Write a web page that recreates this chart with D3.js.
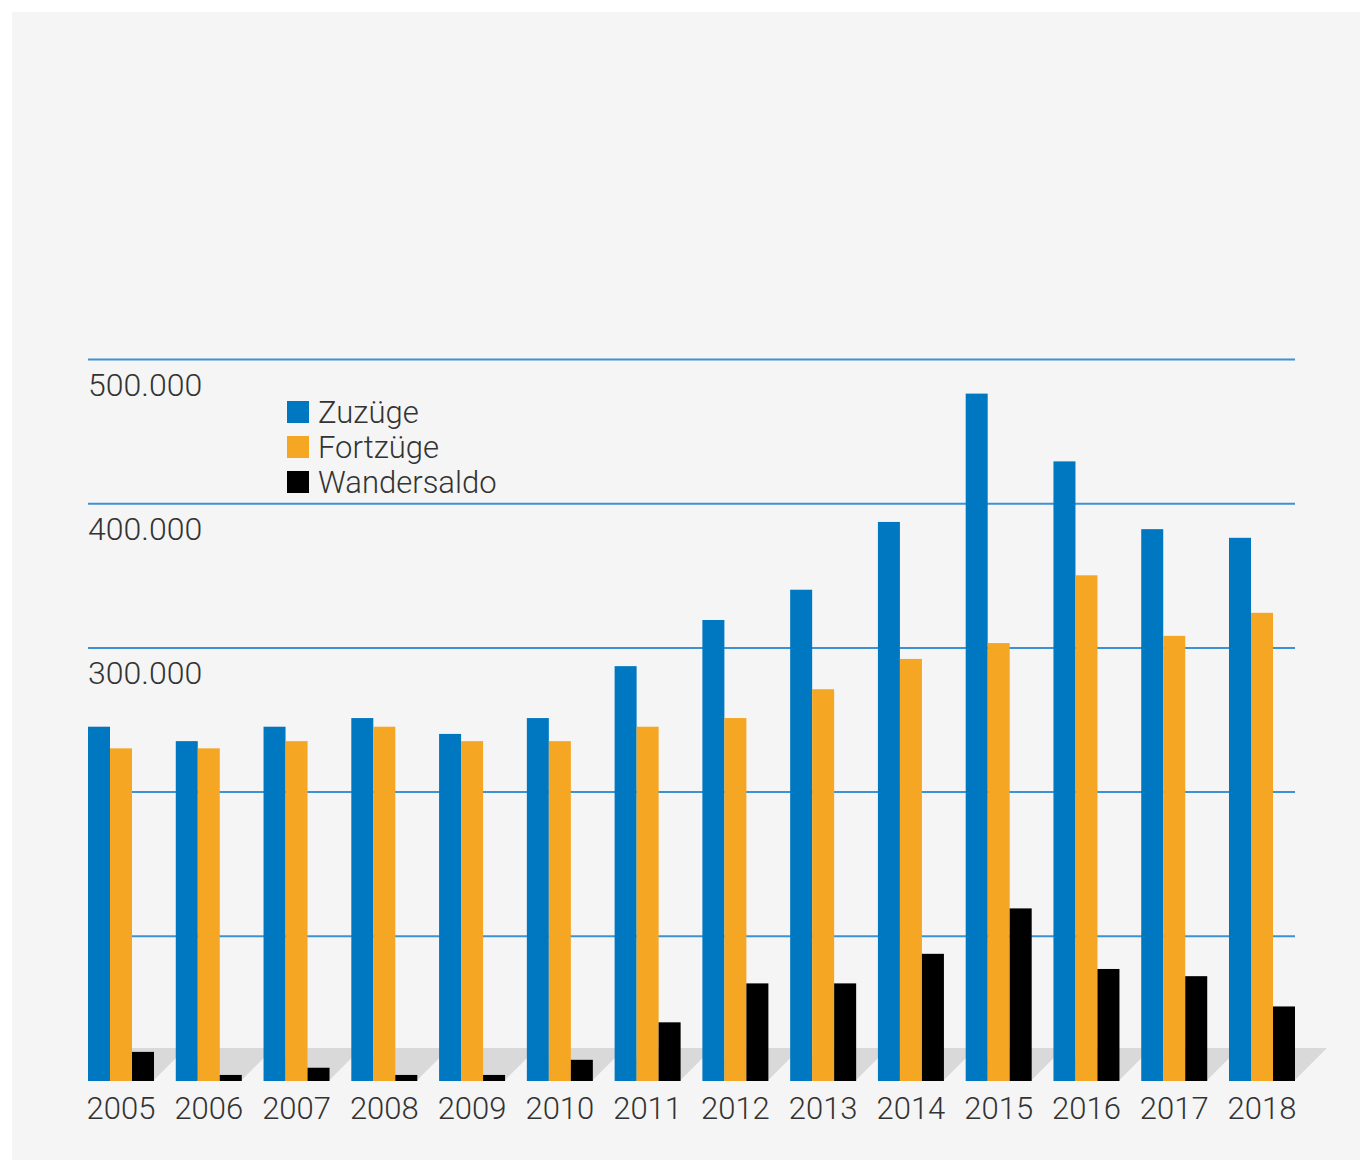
<!DOCTYPE html>
<html>
<head>
<meta charset="utf-8">
<script src="https://cdn.jsdelivr.net/npm/d3@7"></script>
<style>
  html, body { margin: 0; padding: 0; background: #ffffff; }
  svg { display: block; }
  text { font-family: Roboto, "Liberation Sans", sans-serif; fill: #333333; }
</style>
</head>
<body>
<div id="app"></div>
<script>
const years = ['2005','2006','2007','2008','2009','2010','2011','2012','2013','2014','2015','2016','2017','2018']
const zuzuege = [245000, 235000, 245000, 251000, 240000, 251000, 287000, 319000, 340000, 387000, 476000, 429000, 382000, 376000]
const fortzuege = [230000, 230000, 235000, 245000, 235000, 235000, 245000, 251000, 271000, 292000, 303000, 350000, 308000, 324000]
const wandersaldo = [19500, 3500, 8500, 3500, 3500, 14000, 40000, 67000, 67000, 87500, 119000, 77000, 72000, 51000]
const seriesNames = ['Zuzüge', 'Fortzüge', 'Wandersaldo']
const yTicks = [100000, 200000, 300000, 400000, 500000]
const labelledTicks = [300000, 400000, 500000]

const blue = '#0078c1'
const orange = '#f5a623'
const black = '#000000'
const gridColor = '#3d92d4'
const shadowColor = '#d9d9d9'
const colors = [blue, orange, black]

const W = 1362, H = 1162
const plotLeft = 88, plotRight = 1295, plotBase = 1080, plotTop = 359

let svg = d3.select('#app').append('svg')
  .attr('width', W)
  .attr('height', H)

// panel
svg.append('rect')
  .attr('x', 12).attr('y', 12)
  .attr('width', 1348).attr('height', 1148)
  .attr('fill', '#f5f5f5')

let x = d3.scaleBand()
  .domain(years)
  .range([plotLeft, plotRight])
  .paddingInner(0.248)
  .paddingOuter(0)

let xs = d3.scaleBand()
  .domain(seriesNames)
  .range([0, x.bandwidth()])

let y = d3.scaleLinear()
  .domain([0, 500000])
  .range([plotBase, plotTop])

// floor shadow behind each group
const depth = 32
svg.append('g').selectAll('path')
  .data(years)
  .enter()
  .append('path')
  .attr('d', d => {
    const x0 = x(d), x1 = x(d) + x.bandwidth()
    return `M ${x0} ${plotBase} L ${x1} ${plotBase} L ${x1+depth} ${plotBase-depth} L ${x0+depth} ${plotBase-depth} Z`
  })
  .attr('fill', shadowColor)

// grid lines + tick labels (drawn beneath the bars)
let yAxis = d3.axisLeft(y)
  .tickValues(yTicks)
  .tickSize(-(plotRight - plotLeft))
  .tickFormat(d => labelledTicks.includes(d) ? d3.format(',')(d).replace(/,/g, '.') : '')

let axisG = svg.append('g')
  .attr('transform', `translate(${plotLeft},0)`)
  .call(yAxis)
axisG.select('.domain').remove()
axisG.selectAll('.tick line')
  .attr('stroke', gridColor)
  .attr('stroke-width', 2)
axisG.selectAll('.tick text')
  .attr('x', 0)
  .attr('dy', 36)
  .attr('text-anchor', 'start')
  .attr('font-size', 32)
  .attr('font-weight', 300)
  .attr('fill', '#333')
  .style('font-family', 'Roboto, "Liberation Sans", sans-serif')

// bars
const allSeries = [zuzuege, fortzuege, wandersaldo]
let barG = svg.append('g')
allSeries.forEach((vals, si) => {
  barG.append('g').selectAll('rect')
    .data(vals)
    .enter()
    .append('rect')
    .attr('x', (d, i) => x(years[i]) + xs(seriesNames[si]))
    .attr('y', d => y(d))
    .attr('width', xs.bandwidth())
    .attr('height', d => plotBase - y(d) + 1)
    .attr('fill', colors[si])
})

// year labels
svg.append('g').selectAll('text')
  .data(years)
  .enter()
  .append('text')
  .attr('x', d => x(d) + x.bandwidth() / 2)
  .attr('y', 1119)
  .attr('text-anchor', 'middle')
  .attr('font-size', 31)
  .attr('font-weight', 300)
  .text(d => d)

// legend
let legend = svg.append('g')
  .attr('transform', 'translate(287,401)')
seriesNames.forEach((name, i) => {
  legend.append('rect')
    .attr('x', 0)
    .attr('y', i * 35)
    .attr('width', 22)
    .attr('height', 22)
    .attr('fill', colors[i])
  legend.append('text')
    .attr('x', 31)
    .attr('y', i * 35 + 22)
    .attr('font-size', 31)
    .attr('font-weight', 300)
    .text(name)
})
</script>
</body>
</html>
